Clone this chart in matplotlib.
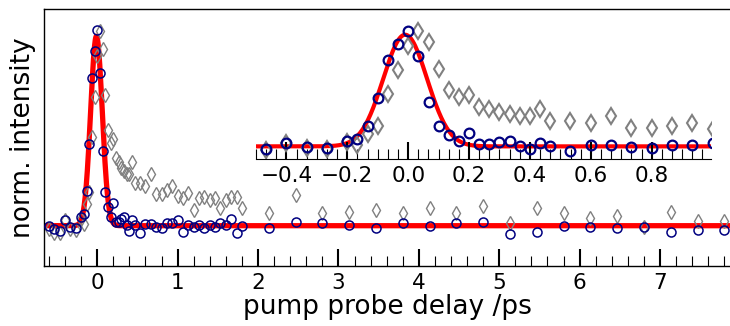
import numpy as np
import matplotlib
matplotlib.use("Agg")
import matplotlib.pyplot as plt
from matplotlib.ticker import MultipleLocator, AutoMinorLocator

# pump probe delay in ps
delay = [-0.6, -0.533, -0.467, -0.4, -0.333, -0.267, -0.2, -0.167, -0.133, -0.1,
         -0.067, -0.033, 0.0, 0.033, 0.067, 0.1, 0.133, 0.167, 0.2, 0.233,
         0.267, 0.3, 0.333, 0.367, 0.4, 0.433, 0.467, 0.533, 0.6, 0.667,
         0.733, 0.8, 0.867, 0.933, 1.0, 1.067, 1.133, 1.2, 1.267, 1.333,
         1.4, 1.467, 1.533, 1.6, 1.667, 1.733, 1.8, 2.133, 2.467, 2.8,
         3.133, 3.467, 3.8, 4.133, 4.467, 4.8, 5.133, 5.467, 5.8, 6.133,
         6.467, 6.8, 7.133, 7.467, 7.8]

# blue circles
signal_blue = [0.0, -0.015, -0.027, 0.03, -0.006, -0.012, 0.044, 0.062, 0.183, 0.432,
               0.778, 0.92, 1.035, 0.808, 0.393, 0.178, 0.098, 0.044, 0.118, 0.018,
               0.018, 0.038, 0.044, 0.003, -0.027, 0.03, 0.003, -0.041, 0.009, 0.009,
               -0.006, -0.012, 0.015, 0.015, 0.03, -0.032, 0.004, -0.005, 0.004, -0.013,
               0.004, -0.005, 0.013, 0.004, 0.036, -0.038, 0.0, -0.014, 0.021, 0.016,
               0.004, -0.014, 0.016, -0.002, 0.016, 0.018, -0.046, -0.032, -0.002, -0.009,
               -0.014, -0.009, -0.035, -0.023, -0.023]

# gray diamonds
signal_gray = [-0.02, -0.04, -0.036, 0.03, -0.015, -0.021, 0.038, 0.009, 0.112, 0.178,
               0.467, 0.68, 0.896, 1.03, 0.932, 0.689, 0.503, 0.438, 0.459, 0.355,
               0.334, 0.305, 0.29, 0.275, 0.275, 0.334, 0.225, 0.225, 0.207, 0.275,
               0.166, 0.166, 0.186, 0.207, 0.157, 0.145, 0.171, 0.083, 0.145, 0.153,
               0.136, 0.145, 0.092, 0.136, 0.15, 0.15, 0.091, 0.065, 0.162, 0.065,
               0.074, 0.083, 0.069, 0.091, 0.069, 0.104, 0.016, 0.091, 0.069, 0.039,
               0.051, -0.005, 0.074, 0.026, 0.026]

# gaussian fit to the blue trace
fit_center = -0.01
fit_sigma = 0.072
fit_amp = 1.0

plt.rcParams['font.family'] = ['DejaVu Sans']

fig = plt.figure(figsize=(7.3, 3.26), dpi=100)
ax = fig.add_axes([0.0603, 0.185, 0.9397, 0.7865])

xfit = np.linspace(-0.7, 7.9, 2000)
yfit = fit_amp * np.exp(-0.5 * ((xfit - fit_center) / fit_sigma) ** 2)

ax.plot(xfit, yfit, color='red', lw=3.8, zorder=1)
ax.plot(delay, signal_gray, 'd', mfc='none', mec='gray', ms=7.5, mew=1.0, zorder=2)
ax.plot(delay, signal_blue, 'o', mfc='none', mec='navy', ms=6.5, mew=1.1, zorder=3)

ax.set_xlim(-0.662, 7.87)
ax.set_ylim(-0.211, 1.142)
ax.set_yticks([])
ax.spines['right'].set_visible(False)
for s in ['top', 'left', 'bottom']:
    ax.spines[s].set_linewidth(1.0)
ax.xaxis.set_major_locator(MultipleLocator(1))
ax.xaxis.set_minor_locator(MultipleLocator(0.2))
ax.tick_params(axis='x', which='major', direction='in', length=12.5, width=1.5,
               labelsize=15.5, pad=5)
ax.tick_params(axis='x', which='minor', direction='in', length=7, width=0.8)
ax.set_xlabel('pump probe delay /ps', fontsize=19, labelpad=1)
ax.set_ylabel('norm. intensity', fontsize=19, labelpad=6)

# inset with the first ps
ins = fig.add_axes([0.3507, 0.5113, 0.6233, 0.427])
ins.patch.set_alpha(0)
ins.plot(xfit, yfit, color='red', lw=3.0, zorder=1)
ins.plot(delay, signal_gray, 'd', mfc='none', mec='gray', ms=8.5, mew=1.5, zorder=2)
ins.plot(delay, signal_blue, 'o', mfc='none', mec='navy', ms=7, mew=1.6, zorder=3)
ins.set_xlim(-0.5, 0.995)
ins.set_ylim(-0.116, 1.131)
ins.set_yticks([])
for s in ['top', 'left', 'right']:
    ins.spines[s].set_visible(False)
ins.xaxis.set_major_locator(MultipleLocator(0.2))
ins.xaxis.set_minor_locator(AutoMinorLocator(6))
ins.tick_params(axis='x', which='major', direction='in', length=12.5, width=1.5,
                labelsize=15.5, pad=5)
ins.tick_params(axis='x', which='minor', direction='in', length=7, width=0.8)

fig.savefig('out.png', dpi=100)
